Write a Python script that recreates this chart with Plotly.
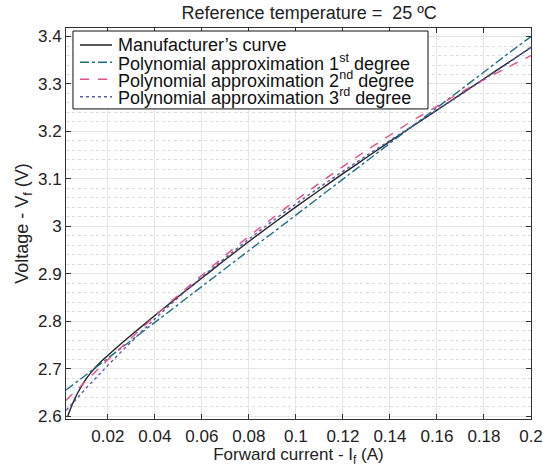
import plotly.graph_objects as go

# Forward current (A) for the manufacturer's curve
manuf_current = [0.0028, 0.004, 0.005, 0.006, 0.0075, 0.009, 0.011, 0.0135, 0.0165, 0.02,
                 0.025, 0.03, 0.04, 0.05, 0.06, 0.07, 0.08, 0.09, 0.10, 0.11,
                 0.12, 0.13, 0.14, 0.15, 0.16, 0.17, 0.18, 0.19, 0.20]
manuf_voltage = [2.598, 2.614, 2.626, 2.637, 2.652, 2.665, 2.680, 2.696, 2.712, 2.728,
                 2.750, 2.771, 2.812, 2.852, 2.891, 2.930, 2.968, 3.005, 3.041, 3.076,
                 3.111, 3.145, 3.179, 3.212, 3.245, 3.278, 3.311, 3.344, 3.377]

# Forward current (A) for the polynomial approximations
fit_current = [0.0022, 0.0044, 0.007, 0.01, 0.015, 0.02, 0.03, 0.04, 0.05, 0.06,
               0.07, 0.08, 0.09, 0.10, 0.11, 0.12, 0.13, 0.14, 0.15, 0.16,
               0.17, 0.18, 0.19, 0.20]
poly1 = [2.655, 2.663, 2.673, 2.684, 2.703, 2.722, 2.760, 2.798, 2.835, 2.873,
         2.911, 2.949, 2.986, 3.024, 3.062, 3.099, 3.137, 3.175, 3.213, 3.250,
         3.288, 3.325, 3.363, 3.400]
poly2 = [2.633, 2.644, 2.656, 2.671, 2.695, 2.719, 2.765, 2.811, 2.855, 2.897,
         2.939, 2.979, 3.017, 3.055, 3.091, 3.126, 3.160, 3.192, 3.224, 3.253,
         3.282, 3.309, 3.335, 3.360]
poly3 = [2.612, 2.624, 2.638, 2.655, 2.681, 2.707, 2.757, 2.805, 2.850, 2.893,
         2.934, 2.973, 3.011, 3.047, 3.082, 3.116, 3.149, 3.181, 3.213, 3.245,
         3.277, 3.310, 3.343, 3.378]

series_names = ["Manufacturer’s curve",
                "Polynomial approximation 1<sup>st</sup> degree",
                "Polynomial approximation 2<sup>nd</sup> degree",
                "Polynomial approximation 3<sup>rd</sup> degree"]
series_colors = ["#222222", "#1f6f84", "#e0508a", "#5a5aa8"]
series_dashes = ["solid", "dashdot", "dash", "dot"]

x_ticks = [0.02, 0.04, 0.06, 0.08, 0.10, 0.12, 0.14, 0.16, 0.18, 0.20]
x_ticktext = ["0.02", "0.04", "0.06", "0.08", "0.1", "0.12", "0.14", "0.16", "0.18", "0.2"]
y_ticks = [2.6, 2.7, 2.8, 2.9, 3.0, 3.1, 3.2, 3.3, 3.4]
y_ticktext = ["2.6", "2.7", "2.8", "2.9", "3", "3.1", "3.2", "3.3", "3.4"]
y_minor = [round(2.6 + 0.02 * k, 2) for k in range(41)]

FONT = "Liberation Sans, Arial, Helvetica, sans-serif"
TXT = "#222222"

fig = go.Figure()
data = [(manuf_current, manuf_voltage), (fit_current, poly1), (fit_current, poly2), (fit_current, poly3)]
for (xs, ys), name, col, dash in zip(data, series_names, series_colors, series_dashes):
    fig.add_trace(go.Scatter(x=xs, y=ys, mode="lines", name=name,
                             line_shape="linear" if dash == "dashdot" else "spline",
                             line=dict(color=col, width=1.4, dash=dash),
                             showlegend=False))

# Hand-built legend (MATLAB style: tight rows inside a black box)
leg_x0, leg_x1 = 0.015, 0.7785
leg_y0, leg_y1 = 0.793, 0.9923
row_y = [0.9565, 0.9125, 0.869, 0.824]
sample_x0, sample_x1, text_x = 0.030, 0.099, 0.1075

shapes = [dict(type="rect", xref="paper", yref="paper", x0=leg_x0, x1=leg_x1,
               y0=leg_y0, y1=leg_y1, fillcolor="white",
               line=dict(color="#111111", width=1), layer="above")]
annotations = []
for ry, name, col, dash in zip(row_y, series_names, series_colors, series_dashes):
    shapes.append(dict(type="line", xref="paper", yref="paper", x0=sample_x0, x1=sample_x1,
                       y0=ry, y1=ry, line=dict(color=col, width=1.4, dash=dash), layer="above"))
    annotations.append(dict(xref="paper", yref="paper", x=text_x, y=ry, text=name,
                            showarrow=False, xanchor="left", yanchor="middle",
                            font=dict(family=FONT, size=18, color="#111111")))

axis_common = dict(
    showline=True, linecolor="#333333", linewidth=1, mirror="ticks",
    ticks="inside", ticklen=5, tickcolor="#333333", automargin=False,
    showgrid=True, gridcolor="#e6e6e6", gridwidth=1, zeroline=False,
    tickfont=dict(family=FONT, size=17, color=TXT),
)

fig.update_layout(
    width=543, height=467,
    margin=dict(l=66, r=12, t=28, b=48),
    paper_bgcolor="white", plot_bgcolor="white",
    font=dict(family=FONT, size=17, color=TXT),
    title=dict(text="Reference temperature =  25 ºC", xref="paper", x=0.523, xanchor="center",
               yref="container", y=1 - 13 / 467, yanchor="middle",
               font=dict(family=FONT, size=18, color=TXT)),
    xaxis=dict(range=[0.0022, 0.2], tickvals=x_ticks, ticktext=x_ticktext,
               ticklabelstandoff=2,
               title=dict(text="Forward current - I<sub>f</sub> (A)", standoff=5,
                          font=dict(family=FONT, size=17, color=TXT)),
               **axis_common),
    yaxis=dict(range=[2.594, 3.418], tickvals=y_ticks, ticktext=y_ticktext,
               title=dict(text="Voltage - V<sub>f</sub> (V)", standoff=4,
                          font=dict(family=FONT, size=18, color=TXT)),
               minor=dict(tickvals=y_minor, showgrid=True, gridcolor="#dddddd",
                          griddash="dot", gridwidth=1, ticks=""),
               **axis_common),
    shapes=shapes,
    annotations=annotations,
    showlegend=False,
)

fig.write_html("out.html")
